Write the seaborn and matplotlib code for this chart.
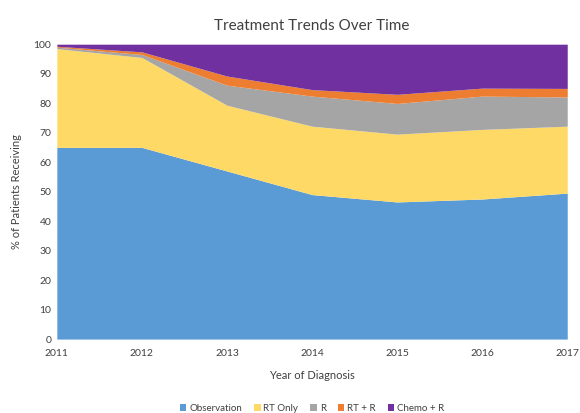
import matplotlib
matplotlib.use("Agg")
import matplotlib.pyplot as plt
import seaborn as sns

# data (percent of patients per treatment)
years = [2011, 2012, 2013, 2014, 2015, 2016, 2017]
observation = [65.0, 65.0, 57.0, 49.0, 46.5, 47.5, 49.5]
rt_only = [33.5, 30.5, 22.3, 23.2, 23.0, 23.6, 22.7]
r_only = [0.5, 1.0, 6.8, 10.2, 10.4, 11.3, 9.9]
rt_r = [0.3, 0.9, 3.1, 2.2, 3.1, 2.7, 2.9]
chemo_r = [0.7, 2.6, 10.8, 15.4, 17.0, 14.9, 15.0]
labels = ["Observation", "RT Only", "R", "RT + R", "Chemo + R"]
colors = ["#5B9BD5", "#FFD966", "#A5A5A5", "#ED7D31", "#7030A0"]

sns.set_theme(style="white")
plt.rcParams["font.family"] = ["Lato", "DejaVu Sans"]

fig, ax = plt.subplots(figsize=(5.8, 4.13), dpi=100)
fig.subplots_adjust(left=0.098, right=0.978, top=0.893, bottom=0.179)

ax.stackplot(years, observation, rt_only, r_only, rt_r, chemo_r,
             labels=labels, colors=colors, linewidth=0)

ax.set_xlim(2011, 2017)
ax.set_ylim(0, 100)
ax.set_yticks(range(0, 101, 10))
ax.set_xticks(years)
ax.tick_params(axis="both", labelsize=7.5, colors="#404040", length=0, pad=4)
ax.tick_params(axis="x", pad=7)
for s in ax.spines.values():
    s.set_visible(False)

ax.set_title("Treatment Trends Over Time", fontsize=11, color="#404040", pad=10)
ax.set_xlabel("Year of Diagnosis", fontsize=8, color="#404040", labelpad=9)
ax.set_ylabel("% of Patients Receiving", fontsize=8, color="#404040", labelpad=8)

ax.legend(loc="upper center", bbox_to_anchor=(0.5, -0.19), ncol=5,
          frameon=False, fontsize=7, handlelength=0.7, handleheight=0.7,
          handletextpad=0.3, columnspacing=1.2, labelcolor="#404040")

fig.savefig("out.png", dpi=100)
